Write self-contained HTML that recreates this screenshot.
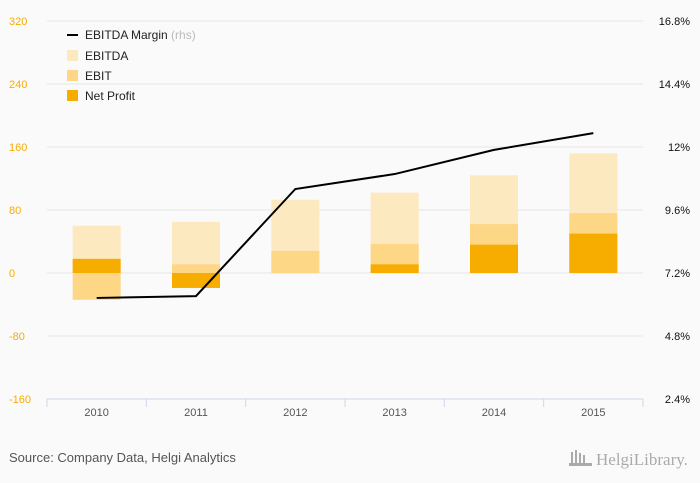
<!DOCTYPE html>
<html><head><meta charset="utf-8"><style>
html,body{margin:0;padding:0;background:#fafafa;}
svg{display:block;font-family:"Liberation Sans",sans-serif;}
</style></head><body>
<svg id="chart" width="700" height="483">
<rect width="700" height="483" fill="#fafafa"/>
<g id="grid"></g><g id="bars"></g><g id="line"></g><g id="axes"></g>
<g font-size="12" fill="#222">
<line x1="67" y1="35" x2="78" y2="35" stroke="#000" stroke-width="2"/>
<text x="85" y="39">EBITDA Margin <tspan fill="#bbb">(rhs)</tspan></text>
<rect x="67" y="50" width="11" height="11" fill="#fde9bf"/>
<text x="85" y="60">EBITDA</text>
<rect x="67" y="70" width="11" height="11" fill="#fdd686"/>
<text x="85" y="80">EBIT</text>
<rect x="67" y="90" width="11" height="11" fill="#f7ad00"/>
<text x="85" y="100">Net Profit</text>
</g>
<text x="9" y="462" font-size="13" fill="#555">Source: Company Data, Helgi Analytics</text>
<text x="596" y="465" font-size="17" fill="#aaa" font-family="Liberation Serif,serif">HelgiLibrary.</text>
<g fill="#aaa"><rect x="571" y="452" width="2" height="12"/><rect x="575" y="450" width="2" height="14"/><rect x="579" y="453" width="2" height="11"/><rect x="583" y="455" width="2" height="9"/><rect x="569" y="463" width="23" height="3"/></g>
</svg>
<script>
const categories=["2010","2011","2012","2013","2014","2015"];
const ebitda=[60,65,93,102,124,152];
const ebit=[-34,11,28,37,62,76];
const netProfit=[18,-19,0,11,36,50];
const margin=[6.25,6.32,10.4,10.97,11.89,12.53];
const leftTicks=[-160,-80,0,80,160,240,320];
const rightTicks=[2.4,4.8,7.2,9.6,12,14.4,16.8];
const NS="http://www.w3.org/2000/svg";
const X0=47,X1=643,Y0=21,Y1=399;
const step=(X1-X0)/categories.length;
function xc(i){return X0+step*(i+0.5);}
function yL(v){return Y1-(v+160)/480*(Y1-Y0);}
function yR(v){return Y1-(v-2.4)/14.4*(Y1-Y0);}
function mk(tag,attrs,parent){const e=document.createElementNS(NS,tag);for(const k in attrs)e.setAttribute(k,attrs[k]);parent.appendChild(e);return e;}
const grid=document.getElementById('grid'),axes=document.getElementById('axes'),bars=document.getElementById('bars'),line=document.getElementById('line');
leftTicks.forEach((t,i)=>{
 const y=yL(t);
 if(t!==-160){const g=mk('line',{x1:X0,x2:X1,y1:y,y2:y,stroke:'#e6e6e6'},grid);
 
 }
 const tx=mk('text',{x:9,y:y+4,'font-size':11,fill:'#f7ad00'},axes);tx.textContent=t;
 
 
});
rightTicks.forEach(t=>{
 const tx=mk('text',{x:690,y:yR(t)+4,'font-size':11,fill:'#111','text-anchor':'end'},axes);tx.textContent=t+'%';
 
 
});
const ax=mk('line',{x1:X0,x2:X1,y1:Y1,y2:Y1,stroke:'#ccd6eb'},axes);


for(let i=0;i<=categories.length;i++){const tk=mk('line',{x1:X0+step*i,x2:X0+step*i,y1:Y1,y2:Y1+8,stroke:'#ccd6eb'},axes);
 
 }
categories.forEach((c,i)=>{
 const tx=mk('text',{x:xc(i),y:416,'font-size':11,fill:'#555','text-anchor':'middle'},axes);tx.textContent=c;
 
 
});
function bar(v,i,color,name){
 const a=yL(0),b=yL(v);
 const r=mk('rect',{x:xc(i)-24,width:48,y:Math.min(a,b),height:Math.abs(a-b),fill:color},bars);
 
 
}
categories.forEach((c,i)=>{bar(ebitda[i],i,'#fde9bf','bar-ebitda');});
categories.forEach((c,i)=>{bar(ebit[i],i,'#fdd686','bar-ebit');});
categories.forEach((c,i)=>{bar(netProfit[i],i,'#f7ad00','bar-net-profit');});
const pts=margin.map((m,i)=>xc(i)+','+yR(m)).join(' ');
const pl=mk('polyline',{points:pts,fill:'none',stroke:'#000','stroke-width':2},line);


</script>
</body></html>
